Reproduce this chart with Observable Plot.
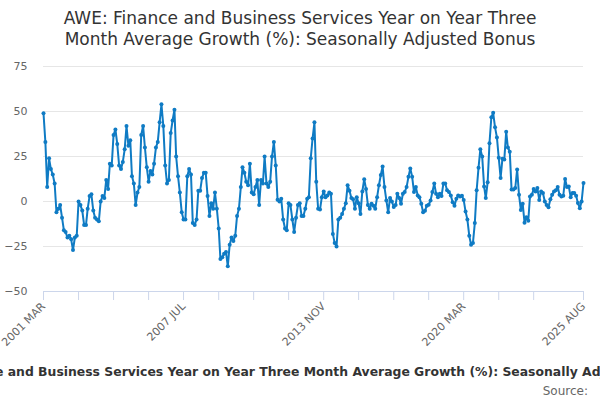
<!DOCTYPE html>
<html>
<head>
<meta charset="utf-8">
<script src="https://cdn.jsdelivr.net/npm/d3@7"></script>
<script src="https://cdn.jsdelivr.net/npm/@observablehq/plot@0.6"></script>
<style>
  body { margin: 0; background: #fff; font-family: "DejaVu Sans", sans-serif; }
  #wrap { position: relative; width: 600px; height: 400px; overflow: hidden; background: #fff; }
  #chart { position: absolute; top: 0; left: 0; }
  #title { position: absolute; top: 8px; left: 0; width: 600px; text-align: center; font-size: 17px; line-height: 21px; color: #333; }
  #caption { position: absolute; top: 364px; left: 0; width: 600px; display: flex; justify-content: center; white-space: nowrap; font-weight: bold; font-size: 12.4px; color: #333; }
  #source { position: absolute; top: 384px; right: 12px; font-size: 12px; color: #666; }
</style>
</head>
<body>
<div id="wrap">
  <div id="chart"></div>
  <div id="title"></div>
  <div id="caption"><span id="captionText"></span></div>
  <div id="source">Source:</div>
</div>
<script>
const titleLines = [
  "AWE: Finance and Business Services Year on Year Three",
  "Month Average Growth (%): Seasonally Adjusted Bonus"
];
const captionText = "AWE: Finance and Business Services Year on Year Three Month Average Growth (%): Seasonally Adjusted Bonus";

// first month of the series (2001 MAR), monthly values through 2025 AUG
const startYear = 2001;
const startMonth = 3;
const values = [
  49, 33, 8, 24, 18, 15, 10, -6, -4, -2,
  -9, -16, -17, -20, -19, -21, -27, -20, -19, 0,
  -2, -5, -13, -13, -4, 3, 4, -5, -9, -10,
  -11, 0, 3, 2, 12, 7, 21, 20, 37, 40,
  32, 20, 18, 22, 29, 42, 31, 34, 14, 10,
  -2, 5, 8, 37, 42, 30, 19, 11, 17, 15,
  21, 30, 33, 44, 54, 42, 20, 10, 12, 38,
  45, 51, 25, 14, 5, -6, -10, -10, 14, 18,
  15, -12, -13, -10, 6, 6, 13, 16, 16, 3,
  -8, -1, -4, 5, -4, -15, -32, -31, -29, -28,
  -36, -24, -20, -22, -19, -8, -4, 8, 19, 16,
  11, 9, 21, 5, 4, 8, 12, -2, 12, 10,
  25, 10, 8, 11, 25, 33, 20, 1, 0, 1.5,
  -10, -15, -16, -1, -2, -10, -17, -9, -2, -1,
  -8, -8, -4, 1.5, 2.4, 24, 35, 44, 11, -4,
  -4.5, 2.4, 5.6, 2.4, 3.4, 5, 4.3, -18, -23, -25,
  -10, -9, -7, -4, -1, 9, 6, 2, 1.3, -4,
  2.4, -1, -7, 5.6, 12.4, 7, -2, -4, -1.3, -2.3,
  -4, 2.4, 9, 14.7, 19.4, 8, 0.6, -6, 2, 0,
  -3, -2, 4.3, 2, -1.3, 4.3, 5.3, 8, 13.7, 18.4,
  13.7, 5.3, 8, 3.4, 2.4, -1.3, -6, -5.1, -2.3, -1.8,
  0.6, 5.3, 10, 4.3, 2.4, 4.3, 3, 10, 10, 6.2,
  5.3, 3.4, -0.4, -2.3, 1.5, 3.4, 2.8, 3.2, 0.9, -5.6,
  -10, -19, -24, -23, -12, 6.2, 18.7, 29, 25, 8.4,
  1.9, 10.7, 32.4, 46.8, 49.3, 41.2, 35.6, 24.3, 13.1, 23.8,
  23.4, 38.8, 30, 27.7, 6.6, 6.6, 7.5, 17.8, 3.7, -4.7,
  -1.3, -11.8, -8.8, -10.7, 2.8, 3.7, 6.9, 5.6, 7.5, 0.9,
  5.6, 4.7, 0, -1.9, -3.2, 1.3, 3.7, 5.6, 6.2, 8,
  3.7, 2.8, 3.2, 12.5, 8, 8.4, 2.4, 4.7, 4.7, 3.2,
  -0.9, -3.7, 0, 10.3
];

const tickMonths = [
  "2001-03", "2002-10", "2004-05", "2005-12", "2007-07", "2009-02", "2010-09", "2012-04",
  "2013-11", "2015-06", "2017-01", "2018-08", "2020-03", "2021-10", "2023-05", "2025-08"
];
const tickLabels = [
  "2001 MAR", "", "", "", "2007 JUL", "", "", "",
  "2013 NOV", "", "", "", "2020 MAR", "", "", "2025 AUG"
];
const yTicks = [-50, -25, 0, 25, 50, 75];
const gridValues = [-25, 0, 25, 50, 75];

const lineColor = "#0f7bc4";

document.getElementById("title").innerHTML = titleLines.join("<br>");
document.getElementById("captionText").textContent = captionText;

const data = values.map((v, i) => ({
  date: new Date(Date.UTC(startYear, startMonth - 1 + i, 1)),
  value: v
}));
const tickDates = tickMonths.map(s => {
  const [y, m] = s.split("-").map(Number);
  return new Date(Date.UTC(y, m - 1, 1));
});
const labelOf = new Map(tickDates.map((d, i) => [+d, tickLabels[i]]));

const chart = Plot.plot({
  width: 600,
  height: 400,
  marginTop: 66,
  marginBottom: 109,
  marginLeft: 43,
  marginRight: 17,
  style: { fontFamily: "DejaVu Sans, sans-serif", fontSize: "11px", color: "#666", background: "transparent" },
  x: { type: "utc", domain: [data[0].date, data[data.length - 1].date] },
  y: { domain: [-50, 75] },
  marks: [
    Plot.gridY(gridValues, { stroke: "#e6e6e6", strokeOpacity: 1 }),
    Plot.ruleY([-50], { stroke: "#ccd6eb" }),
    Plot.axisY({ ticks: yTicks, tickSize: 0, tickPadding: 16, label: null, fill: "#666" }),
    Plot.axisX({
      ticks: tickDates, tickSize: 9, stroke: "#ccd6eb", strokeOpacity: 1,
      tickRotate: -45, tickPadding: 4, label: null, fill: "#666",
      tickFormat: d => labelOf.get(+d) ?? ""
    }),
    Plot.line(data, { x: "date", y: "value", stroke: lineColor, strokeWidth: 2 }),
    Plot.dot(data, { x: "date", y: "value", r: 2, fill: lineColor, stroke: "none" })
  ]
});
document.getElementById("chart").appendChild(chart);
</script>
</body>
</html>
